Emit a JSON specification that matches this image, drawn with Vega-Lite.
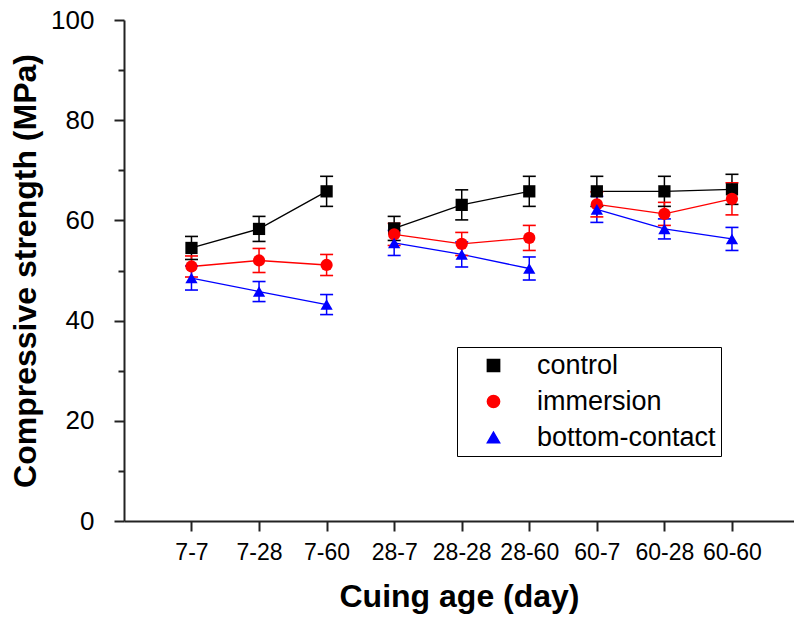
{
  "$schema": "https://vega.github.io/schema/vega-lite/v6.json",
  "width": 670,
  "height": 501,
  "autosize": {"type": "none"},
  "padding": {"left": 124, "top": 20, "right": 0, "bottom": 98},
  "background": "white",
  "config": {"view": {"stroke": null}, "font": "Liberation Sans"},
  "data": {"values": [
    {"age": "7-7", "group": "7", "series": "control", "value": 54.5, "lo": 52.2, "hi": 56.8},
    {"age": "7-28", "group": "7", "series": "control", "value": 58.3, "lo": 55.8, "hi": 60.8},
    {"age": "7-60", "group": "7", "series": "control", "value": 65.8, "lo": 62.8, "hi": 68.8},
    {"age": "28-7", "group": "28", "series": "control", "value": 58.4, "lo": 56.0, "hi": 60.8},
    {"age": "28-28", "group": "28", "series": "control", "value": 63.1, "lo": 60.1, "hi": 66.1},
    {"age": "28-60", "group": "28", "series": "control", "value": 65.8, "lo": 62.8, "hi": 68.8},
    {"age": "60-7", "group": "60", "series": "control", "value": 65.8, "lo": 62.8, "hi": 68.8},
    {"age": "60-28", "group": "60", "series": "control", "value": 65.8, "lo": 62.8, "hi": 68.8},
    {"age": "60-60", "group": "60", "series": "control", "value": 66.2, "lo": 63.2, "hi": 69.2},
    {"age": "7-7", "group": "7", "series": "immersion", "value": 50.8, "lo": 48.7, "hi": 52.9},
    {"age": "7-28", "group": "7", "series": "immersion", "value": 52.0, "lo": 49.6, "hi": 54.4},
    {"age": "7-60", "group": "7", "series": "immersion", "value": 51.1, "lo": 49.0, "hi": 53.2},
    {"age": "28-7", "group": "28", "series": "immersion", "value": 57.2, "lo": 55.0, "hi": 59.4},
    {"age": "28-28", "group": "28", "series": "immersion", "value": 55.3, "lo": 53.0, "hi": 57.6},
    {"age": "28-60", "group": "28", "series": "immersion", "value": 56.5, "lo": 54.0, "hi": 59.0},
    {"age": "60-7", "group": "60", "series": "immersion", "value": 63.2, "lo": 60.7, "hi": 65.7},
    {"age": "60-28", "group": "60", "series": "immersion", "value": 61.3, "lo": 59.0, "hi": 63.6},
    {"age": "60-60", "group": "60", "series": "immersion", "value": 64.3, "lo": 61.1, "hi": 67.5},
    {"age": "7-7", "group": "7", "series": "bottom-contact", "value": 48.5, "lo": 46.1, "hi": 50.9},
    {"age": "7-28", "group": "7", "series": "bottom-contact", "value": 45.8, "lo": 43.8, "hi": 47.8},
    {"age": "7-60", "group": "7", "series": "bottom-contact", "value": 43.2, "lo": 41.2, "hi": 45.2},
    {"age": "28-7", "group": "28", "series": "bottom-contact", "value": 55.5, "lo": 53.0, "hi": 58.0},
    {"age": "28-28", "group": "28", "series": "bottom-contact", "value": 53.2, "lo": 50.7, "hi": 55.7},
    {"age": "28-60", "group": "28", "series": "bottom-contact", "value": 50.4, "lo": 48.1, "hi": 52.7},
    {"age": "60-7", "group": "60", "series": "bottom-contact", "value": 62.2, "lo": 59.6, "hi": 64.8},
    {"age": "60-28", "group": "60", "series": "bottom-contact", "value": 58.3, "lo": 56.3, "hi": 60.3},
    {"age": "60-60", "group": "60", "series": "bottom-contact", "value": 56.3, "lo": 54.0, "hi": 58.6}
  ]},
  "encoding": {
    "x": {
      "field": "age", "type": "ordinal",
      "sort": ["7-7", "7-28", "7-60", "28-7", "28-28", "28-60", "60-7", "60-28", "60-60"],
      "scale": {"type": "point", "padding": 0.9585, "align": 0.521},
      "axis": {
        "title": "Cuing age (day)", "titleFontSize": 32, "titleFontWeight": "bold", "titleColor": "#000", "titlePadding": 17,
        "labelFontSize": 23, "labelColor": "#000", "labelPadding": 10, "labelAngle": 0,
        "tickSize": 10, "tickWidth": 2, "tickColor": "#222", "domainColor": "#222", "domainWidth": 2, "grid": false
      }
    },
    "color": {"field": "series", "type": "nominal",
      "scale": {"domain": ["control", "immersion", "bottom-contact"], "range": ["#000000", "#ff0000", "#0000ff"]},
      "legend": {
        "orient": "none", "legendX": 333, "legendY": 327, "title": null,
        "strokeColor": "#000", "fillColor": "white", "padding": 5,
        "labelFontSize": 27, "labelColor": "#000", "labelLimit": 400,
        "symbolOffset": 18, "labelOffset": 30, "rowPadding": 8
      }
    }
  },
  "layer": [
    {
      "mark": {"type": "line", "strokeWidth": 1.3},
      "encoding": {
        "y": {"field": "value", "type": "quantitative", "scale": {"domain": [0, 100], "nice": false},
          "axis": {
            "title": "Compressive strength (MPa)", "titleFontSize": 32, "titleFontWeight": "bold", "titleColor": "#000", "titlePadding": 8,
            "values": [0, 10, 20, 30, 40, 50, 60, 70, 80, 90, 100],
            "labelExpr": "datum.value % 20 === 0 ? datum.label : ''",
            "labelFontSize": 26, "labelColor": "#000", "labelPadding": 20,
            "tickSize": {"condition": {"test": "datum.value % 20 === 0", "value": 10}, "value": 6},
            "tickWidth": 2, "tickColor": "#222", "domainColor": "#222", "domainWidth": 2, "grid": false
          }
        },
        "detail": {"field": "group"}
      }
    },
    {
      "mark": {"type": "rule", "strokeWidth": 1.5},
      "encoding": {
        "y": {"field": "lo", "type": "quantitative"},
        "y2": {"field": "hi"}
      }
    },
    {
      "mark": {"type": "tick", "size": 13, "thickness": 1.6, "opacity": 1},
      "encoding": {
        "y": {"field": "lo", "type": "quantitative"}
      }
    },
    {
      "mark": {"type": "tick", "size": 13, "thickness": 1.6, "opacity": 1},
      "encoding": {
        "y": {"field": "hi", "type": "quantitative"}
      }
    },
    {
      "mark": {"type": "point", "filled": true, "opacity": 1},
      "encoding": {
        "y": {"field": "value", "type": "quantitative"},
        "shape": {"field": "series", "type": "nominal",
          "scale": {"domain": ["control", "immersion", "bottom-contact"], "range": ["square", "circle", "triangle-up"]},
          "legend": null},
        "size": {"field": "series", "type": "nominal",
          "scale": {"domain": ["control", "immersion", "bottom-contact"], "range": [150, 150, 260]},
          "legend": null}
      }
    }
  ]
}
